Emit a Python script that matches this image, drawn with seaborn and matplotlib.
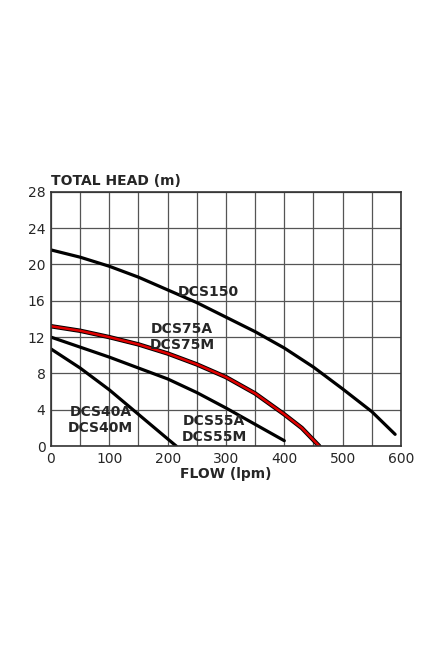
import numpy as np
import pandas as pd
import matplotlib
matplotlib.use("Agg")
import matplotlib.pyplot as plt
import seaborn as sns

# pump curves (flow lpm, head m)
dcs150_flow = [0, 50, 100, 150, 200, 250, 300, 350, 400, 450, 500, 550, 590]
dcs150_head = [21.6, 20.8, 19.8, 18.6, 17.2, 15.8, 14.2, 12.6, 10.8, 8.7, 6.3, 3.8, 1.3]
dcs75_flow = [0, 50, 100, 150, 200, 250, 300, 350, 400, 430, 460]
dcs75_head = [13.2, 12.7, 12.0, 11.2, 10.2, 9.0, 7.6, 5.8, 3.5, 2.0, 0.0]
dcs55_flow = [0, 50, 100, 150, 200, 250, 300, 350, 400]
dcs55_head = [12.0, 10.9, 9.8, 8.6, 7.4, 5.9, 4.2, 2.4, 0.6]
dcs40_flow = [0, 50, 100, 150, 200, 215]
dcs40_head = [10.7, 8.6, 6.2, 3.5, 0.8, 0.0]

sns.set_style("white")
plt.rcParams['font.family'] = ['DejaVu Sans']

fig = plt.figure(figsize=(4.47, 6.59), dpi=100)
ax = fig.add_axes([0.114, 0.323, 0.783, 0.386])

for fl, hd in [(dcs150_flow, dcs150_head), (dcs55_flow, dcs55_head), (dcs40_flow, dcs40_head)]:
    sns.lineplot(x=fl, y=hd, ax=ax, color="black", lw=2.3, sort=False)
sns.lineplot(x=dcs75_flow, y=dcs75_head, ax=ax, color="black", lw=3.2, sort=False)
sns.lineplot(x=dcs75_flow, y=dcs75_head, ax=ax, color="#e00000", lw=1.8, sort=False)

ax.set_xlim(0, 600)
ax.set_ylim(0, 28)
ax.set_xticks(range(0, 601, 100))
ax.set_xticks(range(0, 601, 50), minor=True)
ax.set_yticks(range(0, 29, 4))
ax.grid(True, which="both", color="#555555", lw=0.9)
for s in ax.spines.values():
    s.set_color("#333333")
    s.set_linewidth(1.2)
ax.tick_params(labelsize=10, length=0, pad=4)
ax.set_xlabel("FLOW (lpm)", fontsize=10, fontweight="bold", labelpad=1)
ax.set_ylabel("")
ax.text(0, 28.4, "TOTAL HEAD (m)", fontsize=10, fontweight="bold", va="bottom")

kw = dict(fontsize=10, fontweight="bold", ha="center", va="center")
ax.text(270, 17.0, "DCS150", **kw)
ax.text(225, 12.0, "DCS75A\nDCS75M", **kw)
ax.text(85, 2.9, "DCS40A\nDCS40M", **kw)
ax.text(280, 1.9, "DCS55A\nDCS55M", **kw)

fig.savefig("out.png", dpi=100)
